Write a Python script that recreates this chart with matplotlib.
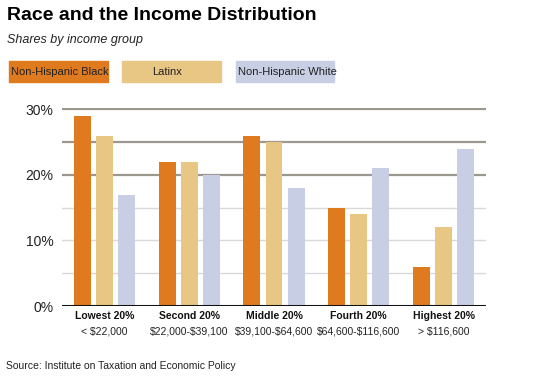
import numpy as np
import matplotlib
matplotlib.use("Agg")
import matplotlib.pyplot as plt
from matplotlib.patches import Rectangle

plt.rcParams["font.family"] = ["Liberation Sans", "DejaVu Sans"]
plt.rcParams["text.parse_math"] = False

groups = ["Lowest 20%", "Second 20%", "Middle 20%", "Fourth 20%", "Highest 20%"]
ranges = ["< $22,000", "$22,000-$39,100", "$39,100-$64,600", "$64,600-$116,600", "> $116,600"]
series = ["Non-Hispanic Black", "Latinx", "Non-Hispanic White"]
black = [29, 22, 26, 15, 6]
latinx = [26, 22, 25, 14, 12]
white = [17, 20, 18, 21, 24]
colors = ["#e07a1f", "#e8c683", "#c8cee3"]
yticks = [0, 10, 20, 30]

fig = plt.figure(figsize=(5.4, 3.76), dpi=100)
ax = fig.add_axes([62 / 540, 1 - 306 / 376, 424 / 540, 198 / 376])

x = np.arange(len(groups))
step, w = 0.26, 0.2
for i, (vals, c) in enumerate(zip([black, latinx, white], colors)):
    ax.bar(x + (i - 1) * step, vals, w, color=c, zorder=3)

# gridlines: upper ones darker, lower ones light
for v in [5, 10, 15]:
    ax.axhline(v, color="#d9d9d9", lw=1.0, zorder=1)
for v in [20, 25, 30]:
    ax.axhline(v, color="#9c978f", lw=1.6, zorder=1)
ax.axhline(0, color="#111111", lw=2.2, zorder=4)

ax.set_xlim(-0.5, 4.5)
ax.set_ylim(0, 30.2)
ax.set_yticks(yticks)
ax.set_yticklabels([f"{v}%" for v in yticks], fontsize=10, color="#222222")
ax.set_xticks(x)
ax.set_xticklabels([])
ax.tick_params(length=0, pad=6)
for s in ax.spines.values():
    s.set_visible(False)
for xi, g, r in zip(x, groups, ranges):
    ax.annotate(g, (xi, 0), xycoords=("data", "axes fraction"), xytext=(0, -7.5),
                textcoords="offset points", ha="center", va="center", fontsize=7.5,
                fontweight="bold", color="#111111")
    ax.annotate(r, (xi, 0), xycoords=("data", "axes fraction"), xytext=(0, -18),
                textcoords="offset points", ha="center", va="center", fontsize=7.5,
                color="#222222")

fig.text(7 / 540, 1 - 16 / 376, "Race and the Income Distribution", fontsize=14,
         fontweight="bold", va="center")
fig.text(7 / 540, 1 - 40 / 376, "Shares by income group", fontsize=9, style="italic",
         va="center", color="#222222")

# legend boxes
boxes = [(9, 99), (122, 99), (236, 98)]
for (bx, bw), c, name in zip(boxes, colors, series):
    fig.patches.append(Rectangle((bx / 540, 1 - 82 / 376), bw / 540, 21 / 376,
                                 transform=fig.transFigure, color=c))
    if name == "Latinx":
        fig.text((bx + bw / 2 - 4) / 540, 1 - 72 / 376, name, fontsize=8, ha="center",
                 va="center", color="#222222")
    else:
        fig.text((bx + 2) / 540, 1 - 72 / 376, name, fontsize=8, ha="left",
                 va="center", color="#222222")

fig.text(6 / 540, 1 - 366 / 376, "Source: Institute on Taxation and Economic Policy",
         fontsize=7.5, va="center", color="#222222")

fig.savefig("out.png", dpi=100)
